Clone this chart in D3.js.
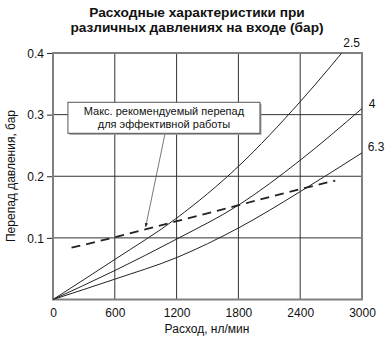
<!DOCTYPE html>
<html>
<head>
<meta charset="utf-8">
<script src="https://cdn.jsdelivr.net/npm/d3@7"></script>
<style>
  body { margin: 0; background: #fff; }
  svg { display: block; font-family: "Liberation Sans", Arial, sans-serif; }
</style>
</head>
<body>
<svg id="chart" width="388" height="338"></svg>
<script>
// Flow values (нл/мин) and pressure drop (бар) for each inlet pressure
const flow = [0, 600, 1200, 1800, 2400, 3000];
const p25 = [0, 0.065, 0.132, 0.216, 0.321, 0.44];
const p4 = [0, 0.047, 0.098, 0.153, 0.226, 0.31];
const p63 = [0, 0.033, 0.068, 0.116, 0.175, 0.238];
const seriesNames = ["2.5", "4", "6.3"];

// Recommended max drop (dashed)
const limitFlow = [180, 600, 1200, 1800, 2400, 2740];
const limitDrop = [0.084, 0.101, 0.127, 0.153, 0.179, 0.193];

const xTicks = [0, 600, 1200, 1800, 2400, 3000];
const yTicks = [0.1, 0.2, 0.3, 0.4];

const svg = d3.select("#chart");
const margin = { top: 53, right: 26, bottom: 38.5, left: 53 };
const width = 388, height = 338;
const innerWidth = width - margin.left - margin.right;
const innerHeight = height - margin.top - margin.bottom;

const x = d3.scaleLinear().domain([0, 3000]).range([0, innerWidth]);
const y = d3.scaleLinear().domain([0, 0.4]).range([innerHeight, 0]);

// title
svg.append("text")
  .attr("x", 197).attr("y", 17)
  .attr("text-anchor", "middle")
  .attr("font-size", 13.7).attr("font-weight", "bold").attr("fill", "#111")
  .text("Расходные характеристики при");
svg.append("text")
  .attr("x", 197).attr("y", 32)
  .attr("text-anchor", "middle")
  .attr("font-size", 13.7).attr("font-weight", "bold").attr("fill", "#111")
  .text("различных давлениях на входе (бар)");

const g = svg.append("g").attr("transform", `translate(${margin.left},${margin.top})`);

const defs = svg.append("defs");
defs.append("clipPath").attr("id", "clip")
  .append("rect").attr("width", innerWidth).attr("height", innerHeight);
defs.append("marker")
  .attr("id", "arrow").attr("viewBox", "0 0 10 10")
  .attr("refX", 9).attr("refY", 5)
  .attr("markerWidth", 5).attr("markerHeight", 5)
  .attr("orient", "auto")
  .append("path").attr("d", "M0,1 L10,5 L0,9 z").attr("fill", "#222");

// grid
g.append("g")
  .selectAll("line")
  .data(xTicks.slice(1, -1))
  .join("line")
  .attr("x1", d => x(d)).attr("x2", d => x(d))
  .attr("y1", 0).attr("y2", innerHeight)
  .attr("stroke", "#333").attr("stroke-width", 1);
g.append("g")
  .selectAll("line")
  .data(yTicks.slice(0, -1))
  .join("line")
  .attr("x1", 0).attr("x2", innerWidth)
  .attr("y1", d => y(d)).attr("y2", d => y(d))
  .attr("stroke", "#333").attr("stroke-width", 1);

// y axis
const yAxis = g.append("g")
  .call(d3.axisLeft(y).tickValues(yTicks).tickSize(6).tickPadding(3).tickFormat(d3.format(".1f")))
  .attr("font-family", null).attr("font-size", 12);
yAxis.select(".domain").remove();
yAxis.selectAll(".tick line").attr("stroke", "#222");
yAxis.selectAll("text").attr("fill", "#111").attr("dy", null).attr("y", 4.3);

// x axis
const xAxis = g.append("g")
  .attr("transform", `translate(0,${innerHeight})`)
  .call(d3.axisBottom(x).tickValues(xTicks).tickSize(0).tickPadding(6).tickFormat(d3.format("d")))
  .attr("font-family", null).attr("font-size", 12);
xAxis.select(".domain").remove();
xAxis.selectAll("text").attr("fill", "#111").attr("dy", null).attr("y", 17.5);

// frame
g.append("rect")
  .attr("width", innerWidth).attr("height", innerHeight)
  .attr("fill", "none").attr("stroke", "#808080").attr("stroke-width", 2);

// curves
const series = [p25, p4, p63];
const line = d3.line()
  .x((d, i) => x(flow[i]))
  .y(d => y(d))
  .curve(d3.curveMonotoneX);

g.append("g").attr("clip-path", "url(#clip)")
  .selectAll("path")
  .data(series)
  .join("path")
  .attr("d", line)
  .attr("fill", "none").attr("stroke", "#222").attr("stroke-width", 1);

// dashed limit line
const dashLine = d3.line()
  .x((d, i) => x(limitFlow[i]))
  .y(d => y(d))
  .curve(d3.curveMonotoneX);
g.append("path")
  .attr("d", dashLine(limitDrop))
  .attr("fill", "none").attr("stroke", "#222").attr("stroke-width", 1.8)
  .attr("stroke-dasharray", "9,6");

// series labels
const labelPos = [
  { fx: 2900, v: 0.4, dx: 0, dy: -6, anchor: "middle" },
  { fx: 3000, v: 0.31, dx: 10, dy: 0, anchor: "middle" },
  { fx: 3000, v: 0.238, dx: 14, dy: -2, anchor: "middle" }
];
g.append("g")
  .selectAll("text")
  .data(seriesNames)
  .join("text")
  .attr("x", (d, i) => x(labelPos[i].fx) + labelPos[i].dx)
  .attr("y", (d, i) => y(labelPos[i].v) + labelPos[i].dy)
  .attr("text-anchor", (d, i) => labelPos[i].anchor)
  .attr("font-size", 12).attr("fill", "#111")
  .text(d => d);

// annotation
g.append("line")
  .attr("x1", x(1090)).attr("y1", y(0.271))
  .attr("x2", x(900)).attr("y2", y(0.118))
  .attr("stroke", "#555").attr("stroke-width", 0.8)
  .attr("marker-end", "url(#arrow)");
const box = g.append("g").attr("transform", `translate(${x(145)},${y(0.32)})`);
box.append("rect")
  .attr("x", 1.5).attr("y", 1.5)
  .attr("width", 192).attr("height", 31)
  .attr("fill", "#999");
box.append("rect")
  .attr("width", 192).attr("height", 31)
  .attr("fill", "#fff").attr("stroke", "#555").attr("stroke-width", 1);
box.append("text")
  .attr("x", 96).attr("y", 13)
  .attr("text-anchor", "middle").attr("font-size", 11).attr("fill", "#111")
  .text("Макс. рекомендуемый перепад");
box.append("text")
  .attr("x", 96).attr("y", 26)
  .attr("text-anchor", "middle").attr("font-size", 11).attr("fill", "#111")
  .text("для эффективной работы");

// axis titles
svg.append("text")
  .attr("x", 207).attr("y", 333)
  .attr("text-anchor", "middle").attr("font-size", 12).attr("fill", "#111")
  .text("Расход, нл/мин");
svg.append("text")
  .attr("transform", "translate(15,176) rotate(-90)")
  .attr("text-anchor", "middle").attr("font-size", 12).attr("fill", "#111")
  .text("Перепад давления, бар");
</script>
</body>
</html>
